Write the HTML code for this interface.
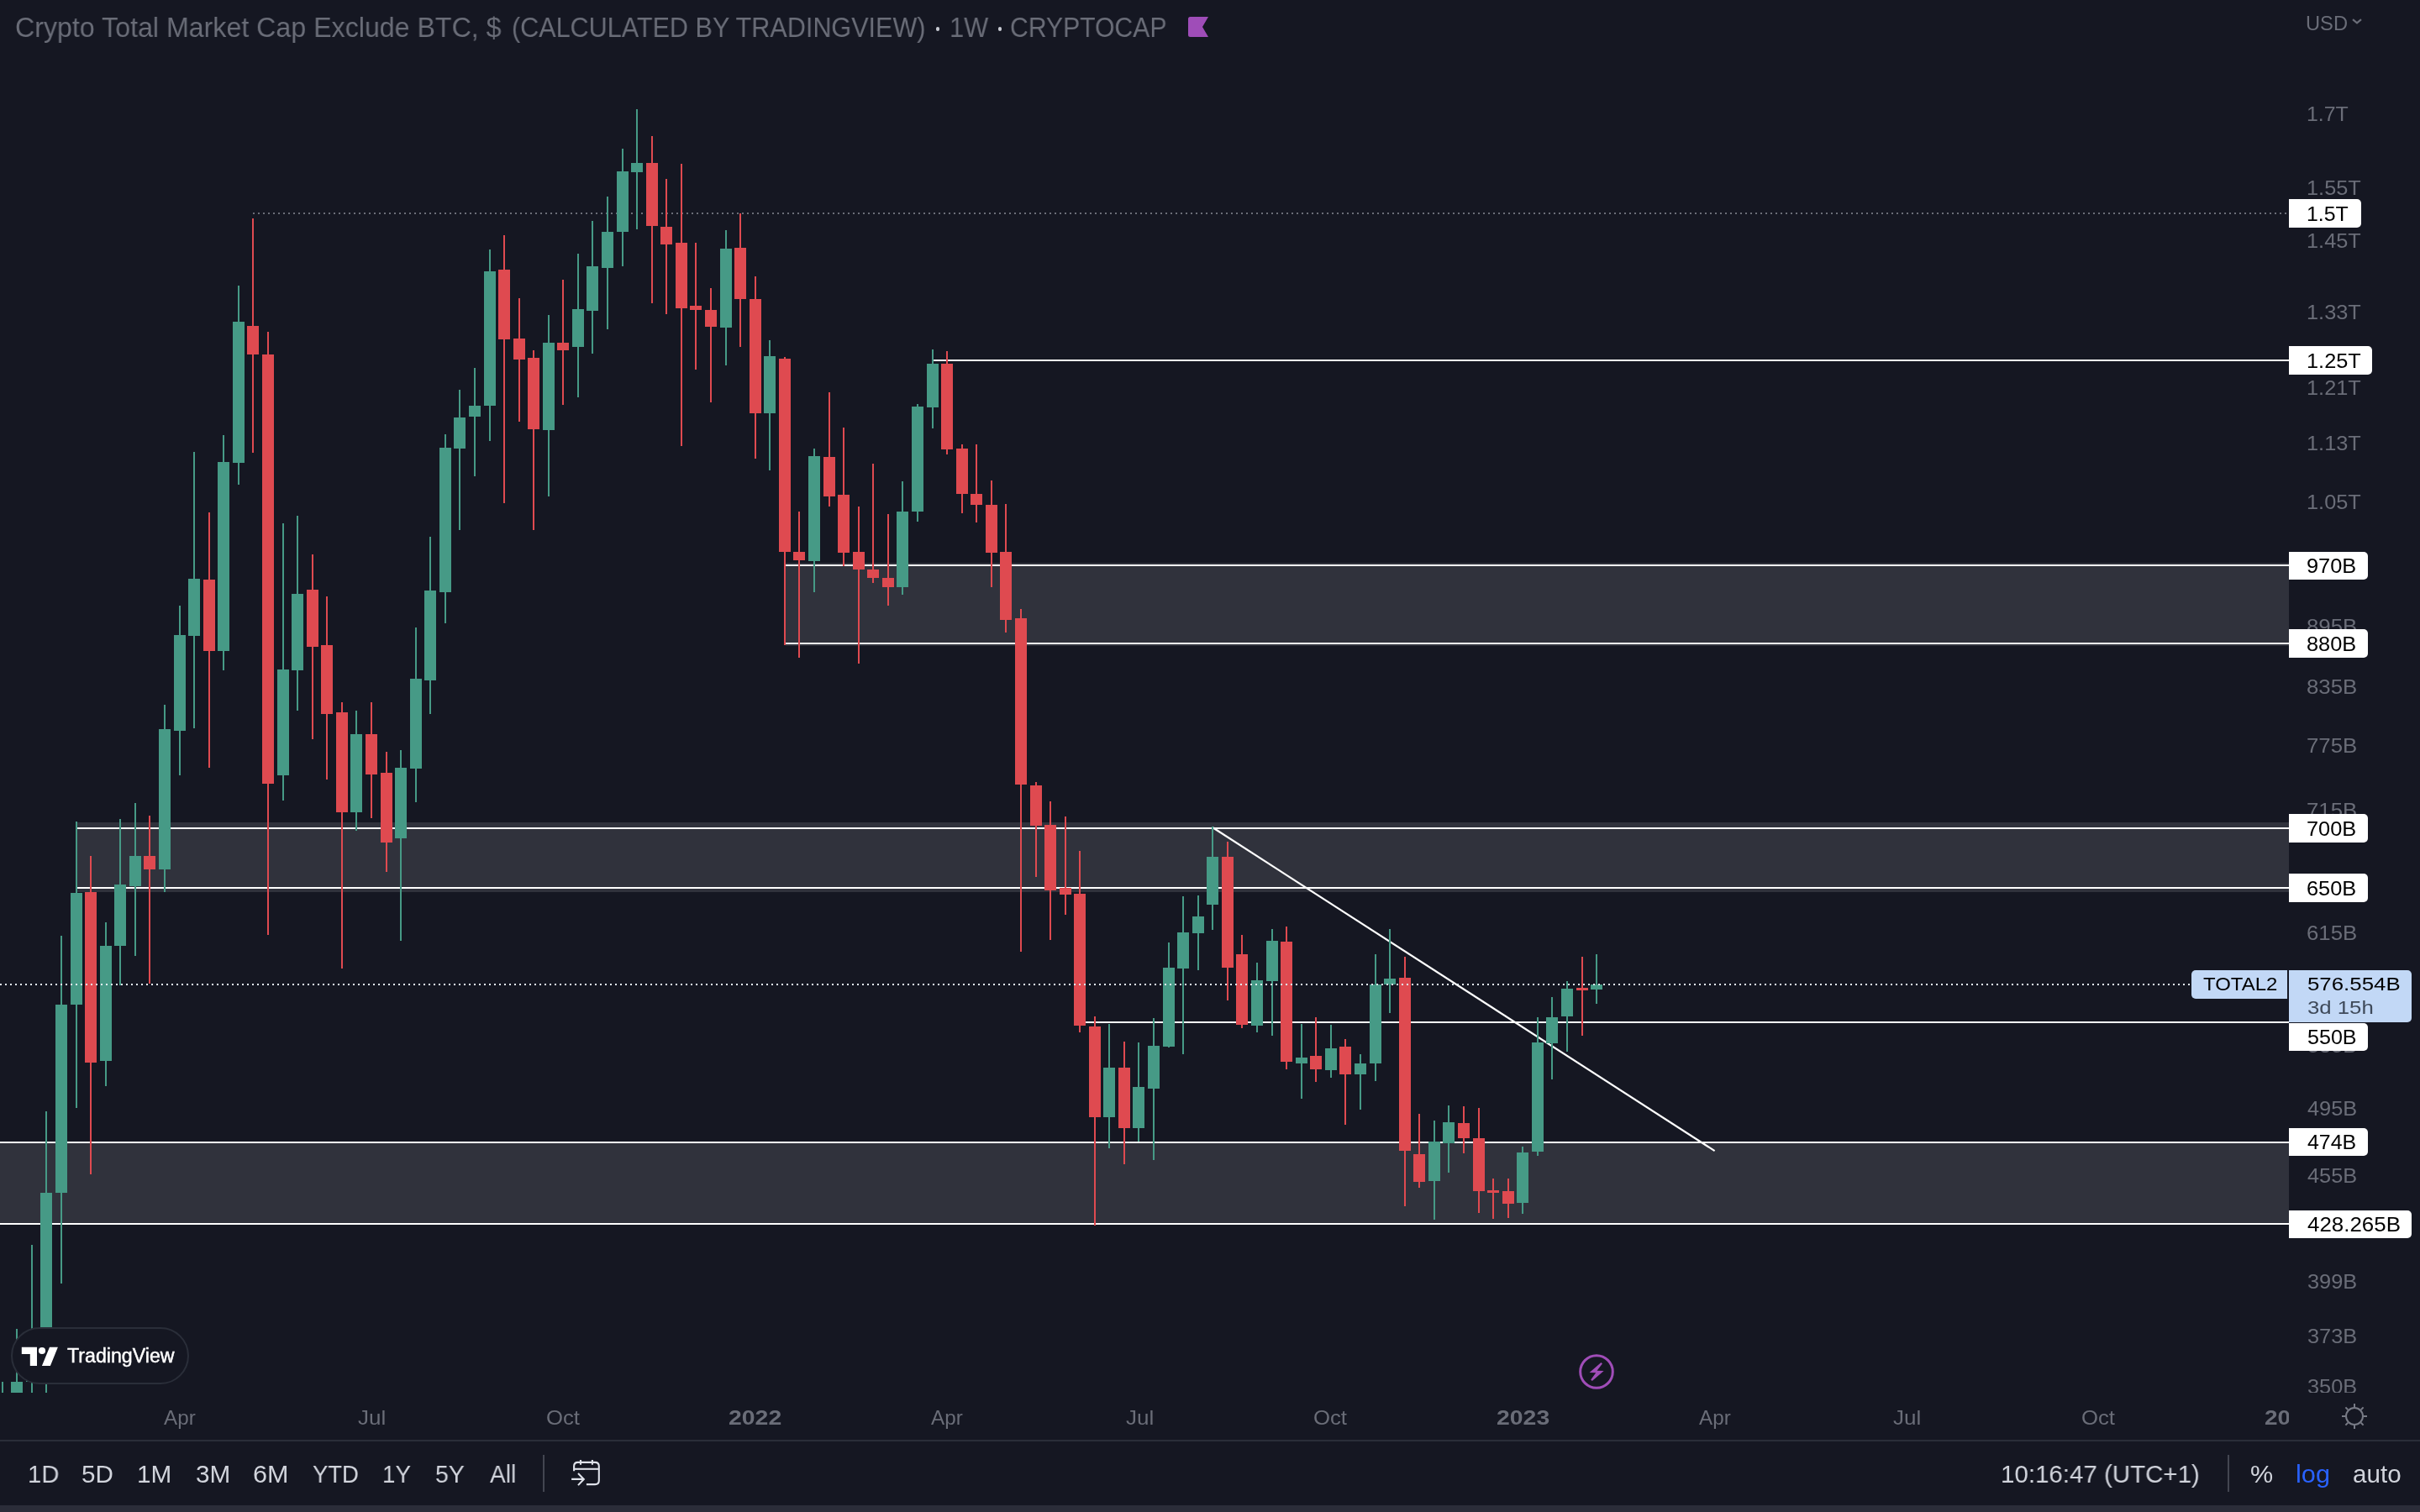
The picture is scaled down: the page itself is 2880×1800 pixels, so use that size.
<!DOCTYPE html>
<html><head><meta charset="utf-8"><style>
html,body{margin:0;padding:0;width:2880px;height:1800px;overflow:hidden;background:#151722;font-family:"Liberation Sans",sans-serif;}
.t{position:absolute;white-space:nowrap;line-height:1;transform-origin:0 0;will-change:transform;}
.box{position:absolute;left:2724px;background:#fff;border-radius:0 5px 5px 0;}
svg{position:absolute;left:0;top:0;overflow:visible}
</style></head><body>
<svg width="2880" height="1800" shape-rendering="crispEdges">
<defs><clipPath id="pane"><rect x="0" y="0" width="2724" height="1658"/></clipPath></defs>
<g clip-path="url(#pane)"><rect x="935" y="670" width="1789" height="99" fill="#30323c"/><rect x="91" y="979" width="2633" height="83" fill="#30323c"/><rect x="0" y="1361" width="2724" height="95" fill="#30323c"/><rect x="935" y="672" width="1789" height="2" fill="#ffffff"/><rect x="935" y="765" width="1789" height="2" fill="#ffffff"/><rect x="91" y="985" width="2633" height="2" fill="#ffffff"/><rect x="91" y="1056" width="2633" height="2" fill="#ffffff"/><rect x="0" y="1359" width="2724" height="2" fill="#ffffff"/><rect x="0" y="1456" width="2724" height="2" fill="#ffffff"/><rect x="1110" y="428" width="1614" height="2" fill="#ffffff"/><rect x="1285" y="1216" width="1439" height="2" fill="#ffffff"/><line x1="301" y1="254" x2="2724" y2="254" stroke="#6b6e78" stroke-width="2" stroke-dasharray="2 4"/><line x1="1443" y1="985" x2="2040.6" y2="1370.1" stroke="#ffffff" stroke-width="2.2" shape-rendering="geometricPrecision"/><rect x="2" y="1645" width="2" height="55" fill="#469a86"/><rect x="-4" y="1660" width="14" height="40" fill="#469a86"/><rect x="19" y="1582" width="2" height="118" fill="#469a86"/><rect x="13" y="1645" width="14" height="55" fill="#469a86"/><rect x="37" y="1482" width="2" height="218" fill="#469a86"/><rect x="31" y="1600" width="14" height="45" fill="#469a86"/><rect x="54" y="1323" width="2" height="377" fill="#469a86"/><rect x="48" y="1420" width="14" height="225" fill="#469a86"/><rect x="72" y="1114" width="2" height="414" fill="#469a86"/><rect x="66" y="1196" width="14" height="224" fill="#469a86"/><rect x="90" y="978" width="2" height="341" fill="#469a86"/><rect x="84" y="1063" width="14" height="133" fill="#469a86"/><rect x="107" y="1019" width="2" height="379" fill="#df4a50"/><rect x="101" y="1062" width="14" height="203" fill="#df4a50"/><rect x="125" y="1098" width="2" height="195" fill="#469a86"/><rect x="119" y="1126" width="14" height="137" fill="#469a86"/><rect x="142" y="975" width="2" height="198" fill="#469a86"/><rect x="136" y="1053" width="14" height="73" fill="#469a86"/><rect x="160" y="956" width="2" height="182" fill="#469a86"/><rect x="154" y="1019" width="14" height="36" fill="#469a86"/><rect x="177" y="971" width="2" height="200" fill="#df4a50"/><rect x="171" y="1019" width="14" height="16" fill="#df4a50"/><rect x="195" y="839" width="2" height="223" fill="#469a86"/><rect x="189" y="868" width="14" height="167" fill="#469a86"/><rect x="213" y="721" width="2" height="202" fill="#469a86"/><rect x="207" y="756" width="14" height="114" fill="#469a86"/><rect x="230" y="538" width="2" height="329" fill="#469a86"/><rect x="224" y="689" width="14" height="68" fill="#469a86"/><rect x="248" y="610" width="2" height="304" fill="#df4a50"/><rect x="242" y="690" width="14" height="85" fill="#df4a50"/><rect x="265" y="518" width="2" height="280" fill="#469a86"/><rect x="259" y="550" width="14" height="225" fill="#469a86"/><rect x="283" y="340" width="2" height="237" fill="#469a86"/><rect x="277" y="383" width="14" height="168" fill="#469a86"/><rect x="300" y="260" width="2" height="279" fill="#df4a50"/><rect x="294" y="388" width="14" height="34" fill="#df4a50"/><rect x="318" y="395" width="2" height="718" fill="#df4a50"/><rect x="312" y="422" width="14" height="511" fill="#df4a50"/><rect x="336" y="623" width="2" height="330" fill="#469a86"/><rect x="330" y="797" width="14" height="126" fill="#469a86"/><rect x="353" y="614" width="2" height="232" fill="#469a86"/><rect x="347" y="707" width="14" height="91" fill="#469a86"/><rect x="371" y="660" width="2" height="220" fill="#df4a50"/><rect x="365" y="702" width="14" height="68" fill="#df4a50"/><rect x="388" y="710" width="2" height="218" fill="#df4a50"/><rect x="382" y="768" width="14" height="82" fill="#df4a50"/><rect x="406" y="836" width="2" height="317" fill="#df4a50"/><rect x="400" y="848" width="14" height="119" fill="#df4a50"/><rect x="423" y="846" width="2" height="143" fill="#469a86"/><rect x="417" y="874" width="14" height="93" fill="#469a86"/><rect x="441" y="836" width="2" height="138" fill="#df4a50"/><rect x="435" y="874" width="14" height="48" fill="#df4a50"/><rect x="459" y="895" width="2" height="143" fill="#df4a50"/><rect x="453" y="920" width="14" height="83" fill="#df4a50"/><rect x="476" y="893" width="2" height="227" fill="#469a86"/><rect x="470" y="914" width="14" height="84" fill="#469a86"/><rect x="494" y="747" width="2" height="208" fill="#469a86"/><rect x="488" y="808" width="14" height="107" fill="#469a86"/><rect x="511" y="639" width="2" height="211" fill="#469a86"/><rect x="505" y="703" width="14" height="107" fill="#469a86"/><rect x="529" y="517" width="2" height="225" fill="#469a86"/><rect x="523" y="533" width="14" height="172" fill="#469a86"/><rect x="546" y="464" width="2" height="167" fill="#469a86"/><rect x="540" y="497" width="14" height="37" fill="#469a86"/><rect x="564" y="438" width="2" height="129" fill="#469a86"/><rect x="558" y="483" width="14" height="13" fill="#469a86"/><rect x="582" y="297" width="2" height="228" fill="#469a86"/><rect x="576" y="323" width="14" height="160" fill="#469a86"/><rect x="599" y="280" width="2" height="319" fill="#df4a50"/><rect x="593" y="321" width="14" height="83" fill="#df4a50"/><rect x="617" y="355" width="2" height="147" fill="#df4a50"/><rect x="611" y="403" width="14" height="25" fill="#df4a50"/><rect x="634" y="417" width="2" height="214" fill="#df4a50"/><rect x="628" y="426" width="14" height="85" fill="#df4a50"/><rect x="652" y="375" width="2" height="216" fill="#469a86"/><rect x="646" y="408" width="14" height="104" fill="#469a86"/><rect x="669" y="333" width="2" height="149" fill="#df4a50"/><rect x="663" y="408" width="14" height="9" fill="#df4a50"/><rect x="687" y="302" width="2" height="171" fill="#469a86"/><rect x="681" y="368" width="14" height="45" fill="#469a86"/><rect x="704" y="263" width="2" height="158" fill="#469a86"/><rect x="698" y="317" width="14" height="53" fill="#469a86"/><rect x="722" y="234" width="2" height="158" fill="#469a86"/><rect x="716" y="276" width="14" height="43" fill="#469a86"/><rect x="740" y="177" width="2" height="140" fill="#469a86"/><rect x="734" y="204" width="14" height="72" fill="#469a86"/><rect x="757" y="130" width="2" height="143" fill="#469a86"/><rect x="751" y="194" width="14" height="11" fill="#469a86"/><rect x="775" y="162" width="2" height="199" fill="#df4a50"/><rect x="769" y="194" width="14" height="75" fill="#df4a50"/><rect x="792" y="213" width="2" height="161" fill="#df4a50"/><rect x="786" y="270" width="14" height="21" fill="#df4a50"/><rect x="810" y="195" width="2" height="336" fill="#df4a50"/><rect x="804" y="289" width="14" height="78" fill="#df4a50"/><rect x="827" y="289" width="2" height="151" fill="#df4a50"/><rect x="821" y="364" width="14" height="5" fill="#df4a50"/><rect x="845" y="343" width="2" height="136" fill="#df4a50"/><rect x="839" y="369" width="14" height="20" fill="#df4a50"/><rect x="863" y="274" width="2" height="161" fill="#469a86"/><rect x="857" y="296" width="14" height="94" fill="#469a86"/><rect x="880" y="254" width="2" height="159" fill="#df4a50"/><rect x="874" y="295" width="14" height="61" fill="#df4a50"/><rect x="898" y="329" width="2" height="217" fill="#df4a50"/><rect x="892" y="356" width="14" height="136" fill="#df4a50"/><rect x="915" y="405" width="2" height="155" fill="#469a86"/><rect x="909" y="424" width="14" height="68" fill="#469a86"/><rect x="933" y="425" width="2" height="343" fill="#df4a50"/><rect x="927" y="427" width="14" height="230" fill="#df4a50"/><rect x="950" y="609" width="2" height="174" fill="#df4a50"/><rect x="944" y="657" width="14" height="10" fill="#df4a50"/><rect x="968" y="534" width="2" height="171" fill="#469a86"/><rect x="962" y="543" width="14" height="125" fill="#469a86"/><rect x="986" y="467" width="2" height="136" fill="#df4a50"/><rect x="980" y="544" width="14" height="47" fill="#df4a50"/><rect x="1003" y="509" width="2" height="165" fill="#df4a50"/><rect x="997" y="589" width="14" height="69" fill="#df4a50"/><rect x="1021" y="603" width="2" height="187" fill="#df4a50"/><rect x="1015" y="657" width="14" height="21" fill="#df4a50"/><rect x="1038" y="552" width="2" height="142" fill="#df4a50"/><rect x="1032" y="678" width="14" height="10" fill="#df4a50"/><rect x="1056" y="612" width="2" height="109" fill="#df4a50"/><rect x="1050" y="688" width="14" height="11" fill="#df4a50"/><rect x="1073" y="573" width="2" height="135" fill="#469a86"/><rect x="1067" y="609" width="14" height="90" fill="#469a86"/><rect x="1091" y="481" width="2" height="140" fill="#469a86"/><rect x="1085" y="484" width="14" height="125" fill="#469a86"/><rect x="1109" y="416" width="2" height="94" fill="#469a86"/><rect x="1103" y="433" width="14" height="52" fill="#469a86"/><rect x="1126" y="418" width="2" height="123" fill="#df4a50"/><rect x="1120" y="433" width="14" height="102" fill="#df4a50"/><rect x="1144" y="529" width="2" height="82" fill="#df4a50"/><rect x="1138" y="534" width="14" height="54" fill="#df4a50"/><rect x="1161" y="529" width="2" height="93" fill="#df4a50"/><rect x="1155" y="588" width="14" height="13" fill="#df4a50"/><rect x="1179" y="572" width="2" height="127" fill="#df4a50"/><rect x="1173" y="601" width="14" height="57" fill="#df4a50"/><rect x="1196" y="600" width="2" height="153" fill="#df4a50"/><rect x="1190" y="657" width="14" height="81" fill="#df4a50"/><rect x="1214" y="725" width="2" height="408" fill="#df4a50"/><rect x="1208" y="736" width="14" height="198" fill="#df4a50"/><rect x="1232" y="931" width="2" height="113" fill="#df4a50"/><rect x="1226" y="935" width="14" height="48" fill="#df4a50"/><rect x="1249" y="954" width="2" height="165" fill="#df4a50"/><rect x="1243" y="982" width="14" height="78" fill="#df4a50"/><rect x="1267" y="972" width="2" height="117" fill="#df4a50"/><rect x="1261" y="1057" width="14" height="8" fill="#df4a50"/><rect x="1284" y="1013" width="2" height="216" fill="#df4a50"/><rect x="1278" y="1064" width="14" height="157" fill="#df4a50"/><rect x="1302" y="1210" width="2" height="249" fill="#df4a50"/><rect x="1296" y="1222" width="14" height="108" fill="#df4a50"/><rect x="1319" y="1219" width="2" height="148" fill="#469a86"/><rect x="1313" y="1271" width="14" height="59" fill="#469a86"/><rect x="1337" y="1240" width="2" height="146" fill="#df4a50"/><rect x="1331" y="1271" width="14" height="72" fill="#df4a50"/><rect x="1354" y="1241" width="2" height="118" fill="#469a86"/><rect x="1348" y="1294" width="14" height="49" fill="#469a86"/><rect x="1372" y="1212" width="2" height="169" fill="#469a86"/><rect x="1366" y="1245" width="14" height="51" fill="#469a86"/><rect x="1390" y="1122" width="2" height="125" fill="#469a86"/><rect x="1384" y="1152" width="14" height="94" fill="#469a86"/><rect x="1407" y="1067" width="2" height="188" fill="#469a86"/><rect x="1401" y="1110" width="14" height="43" fill="#469a86"/><rect x="1425" y="1066" width="2" height="89" fill="#469a86"/><rect x="1419" y="1091" width="14" height="20" fill="#469a86"/><rect x="1442" y="984" width="2" height="123" fill="#469a86"/><rect x="1436" y="1020" width="14" height="57" fill="#469a86"/><rect x="1460" y="1002" width="2" height="189" fill="#df4a50"/><rect x="1454" y="1020" width="14" height="132" fill="#df4a50"/><rect x="1477" y="1113" width="2" height="111" fill="#df4a50"/><rect x="1471" y="1136" width="14" height="84" fill="#df4a50"/><rect x="1495" y="1146" width="2" height="83" fill="#469a86"/><rect x="1489" y="1167" width="14" height="54" fill="#469a86"/><rect x="1513" y="1106" width="2" height="127" fill="#469a86"/><rect x="1507" y="1120" width="14" height="48" fill="#469a86"/><rect x="1530" y="1103" width="2" height="170" fill="#df4a50"/><rect x="1524" y="1121" width="14" height="143" fill="#df4a50"/><rect x="1548" y="1219" width="2" height="89" fill="#469a86"/><rect x="1542" y="1259" width="14" height="7" fill="#469a86"/><rect x="1565" y="1211" width="2" height="77" fill="#df4a50"/><rect x="1559" y="1257" width="14" height="16" fill="#df4a50"/><rect x="1583" y="1220" width="2" height="63" fill="#469a86"/><rect x="1577" y="1248" width="14" height="26" fill="#469a86"/><rect x="1600" y="1237" width="2" height="102" fill="#df4a50"/><rect x="1594" y="1246" width="14" height="33" fill="#df4a50"/><rect x="1618" y="1255" width="2" height="66" fill="#469a86"/><rect x="1612" y="1266" width="14" height="13" fill="#469a86"/><rect x="1636" y="1136" width="2" height="151" fill="#469a86"/><rect x="1630" y="1172" width="14" height="94" fill="#469a86"/><rect x="1653" y="1106" width="2" height="100" fill="#469a86"/><rect x="1647" y="1165" width="14" height="7" fill="#469a86"/><rect x="1671" y="1139" width="2" height="297" fill="#df4a50"/><rect x="1665" y="1164" width="14" height="206" fill="#df4a50"/><rect x="1688" y="1326" width="2" height="88" fill="#df4a50"/><rect x="1682" y="1374" width="14" height="33" fill="#df4a50"/><rect x="1706" y="1334" width="2" height="118" fill="#469a86"/><rect x="1700" y="1359" width="14" height="47" fill="#469a86"/><rect x="1723" y="1316" width="2" height="80" fill="#469a86"/><rect x="1717" y="1336" width="14" height="25" fill="#469a86"/><rect x="1741" y="1317" width="2" height="56" fill="#df4a50"/><rect x="1735" y="1337" width="14" height="18" fill="#df4a50"/><rect x="1759" y="1319" width="2" height="125" fill="#df4a50"/><rect x="1753" y="1355" width="14" height="63" fill="#df4a50"/><rect x="1776" y="1403" width="2" height="48" fill="#df4a50"/><rect x="1770" y="1417" width="14" height="3" fill="#df4a50"/><rect x="1794" y="1403" width="2" height="47" fill="#df4a50"/><rect x="1788" y="1418" width="14" height="15" fill="#df4a50"/><rect x="1811" y="1365" width="2" height="80" fill="#469a86"/><rect x="1805" y="1372" width="14" height="60" fill="#469a86"/><rect x="1829" y="1211" width="2" height="165" fill="#469a86"/><rect x="1823" y="1241" width="14" height="130" fill="#469a86"/><rect x="1846" y="1187" width="2" height="98" fill="#469a86"/><rect x="1840" y="1211" width="14" height="31" fill="#469a86"/><rect x="1864" y="1168" width="2" height="84" fill="#469a86"/><rect x="1858" y="1177" width="14" height="33" fill="#469a86"/><rect x="1882" y="1139" width="2" height="94" fill="#df4a50"/><rect x="1876" y="1176" width="14" height="3" fill="#df4a50"/><rect x="1899" y="1136" width="2" height="59" fill="#469a86"/><rect x="1893" y="1172" width="14" height="6" fill="#469a86"/><line x1="0" y1="1172" x2="2608" y2="1172" stroke="#e3efff" stroke-width="2" stroke-dasharray="2 4"/></g>
</svg>
<div style="position:absolute;left:12.6px;top:1580px;width:208.9px;height:63.9px;border:2px solid #2a2e39;border-radius:34px;background:#151722;box-sizing:content-box"></div><svg style="left:20px;top:1595px" width="60" height="40" viewBox="20 1595 60 40"><path d="M25.8 1603.8H44V1626H35.8V1612H25.8Z M59 1603.8H68.9L59.9 1626H49.9Z" fill="#fff"/><circle cx="50" cy="1608" r="4.1" fill="#fff"/></svg>
<div class="t" style="left:18.23px;top:15.60px;font-size:33.2px;color:#6a6d78;font-weight:normal;transform:scaleX(0.9691);">Crypto Total Market Cap Exclude BTC, $</div><div class="t" style="left:608.86px;top:15.60px;font-size:33.2px;color:#6a6d78;font-weight:normal;transform:scaleX(0.9208);">(CALCULATED BY TRADINGVIEW)</div><div class="t" style="left:1130.15px;top:15.60px;font-size:33.2px;color:#6a6d78;font-weight:normal;transform:scaleX(0.9266);">1W</div><div class="t" style="left:1202.29px;top:15.60px;font-size:33.2px;color:#6a6d78;font-weight:normal;transform:scaleX(0.9080);">CRYPTOCAP</div><div class="t" style="left:2743.50px;top:16.64px;font-size:23.7px;color:#6a6d78;font-weight:normal;">USD</div><div class="t" style="left:32.53px;top:1740.14px;font-size:29.6px;color:#d1d4dc;font-weight:normal;transform:scaleX(0.9867);">1D</div><div class="t" style="left:97.31px;top:1740.14px;font-size:29.6px;color:#d1d4dc;font-weight:normal;transform:scaleX(0.9927);">5D</div><div class="t" style="left:162.99px;top:1740.14px;font-size:29.6px;color:#d1d4dc;font-weight:normal;transform:scaleX(1.0038);">1M</div><div class="t" style="left:233.00px;top:1740.14px;font-size:29.6px;color:#d1d4dc;font-weight:normal;transform:scaleX(1.0037);">3M</div><div class="t" style="left:300.97px;top:1740.14px;font-size:29.6px;color:#d1d4dc;font-weight:normal;transform:scaleX(1.0323);">6M</div><div class="t" style="left:372.00px;top:1740.14px;font-size:29.6px;color:#d1d4dc;font-weight:normal;transform:scaleX(0.9271);">YTD</div><div class="t" style="left:455.13px;top:1740.14px;font-size:29.6px;color:#d1d4dc;font-weight:normal;transform:scaleX(0.9374);">1Y</div><div class="t" style="left:517.84px;top:1740.14px;font-size:29.6px;color:#d1d4dc;font-weight:normal;transform:scaleX(0.9589);">5Y</div><div class="t" style="left:582.60px;top:1740.14px;font-size:29.6px;color:#d1d4dc;font-weight:normal;transform:scaleX(0.9517);">All</div><div class="t" style="left:2380.51px;top:1740.14px;font-size:29.6px;color:#d1d4dc;font-weight:normal;transform:scaleX(0.9964);">10:16:47 (UTC+1)</div><div class="t" style="left:2677.97px;top:1740.14px;font-size:29.6px;color:#d1d4dc;font-weight:normal;transform:scaleX(1.0320);">%</div><div class="t" style="left:2731.92px;top:1740.14px;font-size:29.6px;color:#2962ff;font-weight:normal;transform:scaleX(1.0379);">log</div><div class="t" style="left:2800.00px;top:1740.14px;font-size:29.6px;color:#d1d4dc;font-weight:normal;">auto</div><div class="t" style="left:80.00px;top:1603.03px;font-size:23px;color:#ffffff;font-weight:normal;transform:scaleX(1.0082);-webkit-text-stroke:0.45px #fff;">TradingView</div>
<div style="position:absolute;left:0;top:0;width:2880px;height:1658px;overflow:hidden"><div class="t" style="left:2744.97px;top:123.81px;font-size:24.2px;color:#6a6d78;font-weight:normal;transform:scaleX(1.0289);">1.7T</div><div class="t" style="left:2744.95px;top:211.81px;font-size:24.2px;color:#6a6d78;font-weight:normal;transform:scaleX(1.0479);">1.55T</div><div class="t" style="left:2744.95px;top:275.41px;font-size:24.2px;color:#6a6d78;font-weight:normal;transform:scaleX(1.0479);">1.45T</div><div class="t" style="left:2744.95px;top:359.81px;font-size:24.2px;color:#6a6d78;font-weight:normal;transform:scaleX(1.0479);">1.33T</div><div class="t" style="left:2744.95px;top:449.81px;font-size:24.2px;color:#6a6d78;font-weight:normal;transform:scaleX(1.0479);">1.21T</div><div class="t" style="left:2744.95px;top:516.31px;font-size:24.2px;color:#6a6d78;font-weight:normal;transform:scaleX(1.0479);">1.13T</div><div class="t" style="left:2744.95px;top:585.81px;font-size:24.2px;color:#6a6d78;font-weight:normal;transform:scaleX(1.0479);">1.05T</div><div class="t" style="left:2744.93px;top:734.31px;font-size:24.2px;color:#6a6d78;font-weight:normal;transform:scaleX(1.0670);">895B</div><div class="t" style="left:2744.93px;top:806.31px;font-size:24.2px;color:#6a6d78;font-weight:normal;transform:scaleX(1.0670);">835B</div><div class="t" style="left:2744.93px;top:875.81px;font-size:24.2px;color:#6a6d78;font-weight:normal;transform:scaleX(1.0670);">775B</div><div class="t" style="left:2744.93px;top:952.81px;font-size:24.2px;color:#6a6d78;font-weight:normal;transform:scaleX(1.0670);">715B</div><div class="t" style="left:2744.93px;top:1098.81px;font-size:24.2px;color:#6a6d78;font-weight:normal;transform:scaleX(1.0670);">615B</div><div class="t" style="left:2746.00px;top:1233.31px;font-size:24.2px;color:#6a6d78;font-weight:normal;transform:scaleX(1.0478);">535B</div><div class="t" style="left:2746.00px;top:1307.81px;font-size:24.2px;color:#6a6d78;font-weight:normal;transform:scaleX(1.0478);">495B</div><div class="t" style="left:2746.00px;top:1388.31px;font-size:24.2px;color:#6a6d78;font-weight:normal;transform:scaleX(1.0478);">455B</div><div class="t" style="left:2746.00px;top:1514.31px;font-size:24.2px;color:#6a6d78;font-weight:normal;transform:scaleX(1.0478);">399B</div><div class="t" style="left:2746.00px;top:1578.81px;font-size:24.2px;color:#6a6d78;font-weight:normal;transform:scaleX(1.0478);">373B</div><div class="t" style="left:2746.00px;top:1639.31px;font-size:24.2px;color:#6a6d78;font-weight:normal;transform:scaleX(1.0478);">350B</div></div>
<div class="box" style="top:237px;height:34px;width:86px"></div><div class="box" style="top:412px;height:34px;width:99px"></div><div class="box" style="top:656.5px;height:33.5px;width:94px"></div><div class="box" style="top:749px;height:34px;width:94px"></div><div class="box" style="top:969px;height:33.5px;width:94px"></div><div class="box" style="top:1040px;height:33.5px;width:94px"></div><div class="box" style="top:1217.5px;height:33.5px;width:94px"></div><div class="box" style="top:1343px;height:33px;width:94px"></div><div class="box" style="top:1440.7px;height:32.899999999999864px;width:146px"></div>
<div style="position:absolute;left:2608px;top:1155px;width:114px;height:34px;background:#c2d8f6;border-radius:5px 0 0 5px"></div>
<div style="position:absolute;left:2724px;top:1155px;width:146px;height:62px;background:#c2d8f6;border-radius:0 5px 5px 0"></div>
<div class="t" style="left:2744.97px;top:242.81px;font-size:24.2px;color:#000;font-weight:normal;transform:scaleX(1.0289);">1.5T</div><div class="t" style="left:2744.95px;top:417.81px;font-size:24.2px;color:#000;font-weight:normal;transform:scaleX(1.0479);">1.25T</div><div class="t" style="left:2744.95px;top:662.06px;font-size:24.2px;color:#000;font-weight:normal;transform:scaleX(1.0486);">970B</div><div class="t" style="left:2744.95px;top:754.81px;font-size:24.2px;color:#000;font-weight:normal;transform:scaleX(1.0486);">880B</div><div class="t" style="left:2744.95px;top:974.56px;font-size:24.2px;color:#000;font-weight:normal;transform:scaleX(1.0486);">700B</div><div class="t" style="left:2744.95px;top:1045.56px;font-size:24.2px;color:#000;font-weight:normal;transform:scaleX(1.0486);">650B</div><div class="t" style="left:2746.00px;top:1223.06px;font-size:24.2px;color:#000;font-weight:normal;transform:scaleX(1.0369);">550B</div><div class="t" style="left:2746.00px;top:1348.31px;font-size:24.2px;color:#000;font-weight:normal;transform:scaleX(1.0297);">474B</div><div class="t" style="left:2746.00px;top:1445.96px;font-size:24.2px;color:#000;font-weight:normal;transform:scaleX(1.0710);">428.265B</div><div class="t" style="left:2621.50px;top:1160.91px;font-size:22.2px;color:#000;font-weight:normal;transform:scaleX(1.0791);">TOTAL2</div><div class="t" style="left:2745.80px;top:1160.91px;font-size:22.2px;color:#000;font-weight:normal;transform:scaleX(1.1645);">576.554B</div><div class="t" style="left:2745.80px;top:1188.61px;font-size:22.2px;color:#3f4a5a;font-weight:normal;transform:scaleX(1.1605);">3d 15h</div>
<div style="position:absolute;left:0;top:1658px;width:2724px;height:56px;overflow:hidden"><div class="t" style="left:194.65px;top:18.28px;font-size:24px;color:#6a6d78;font-weight:normal;transform:scaleX(1.0092);">Apr</div><div class="t" style="left:426.03px;top:18.28px;font-size:24px;color:#6a6d78;font-weight:normal;transform:scaleX(1.0836);">Jul</div><div class="t" style="left:649.64px;top:18.28px;font-size:24px;color:#6a6d78;font-weight:normal;transform:scaleX(1.0718);">Oct</div><div class="t" style="left:867.39px;top:18.28px;font-size:24px;color:#6a6d78;font-weight:bold;transform:scaleX(1.1839);">2022</div><div class="t" style="left:1108.37px;top:18.28px;font-size:24px;color:#6a6d78;font-weight:normal;transform:scaleX(1.0092);">Apr</div><div class="t" style="left:1339.75px;top:18.28px;font-size:24px;color:#6a6d78;font-weight:normal;transform:scaleX(1.0836);">Jul</div><div class="t" style="left:1563.36px;top:18.28px;font-size:24px;color:#6a6d78;font-weight:normal;transform:scaleX(1.0718);">Oct</div><div class="t" style="left:1781.11px;top:18.28px;font-size:24px;color:#6a6d78;font-weight:bold;transform:scaleX(1.1839);">2023</div><div class="t" style="left:2022.09px;top:18.28px;font-size:24px;color:#6a6d78;font-weight:normal;transform:scaleX(1.0092);">Apr</div><div class="t" style="left:2253.47px;top:18.28px;font-size:24px;color:#6a6d78;font-weight:normal;transform:scaleX(1.0836);">Jul</div><div class="t" style="left:2477.08px;top:18.28px;font-size:24px;color:#6a6d78;font-weight:normal;transform:scaleX(1.0718);">Oct</div><div class="t" style="left:2694.83px;top:18.28px;font-size:24px;color:#6a6d78;font-weight:bold;transform:scaleX(1.1620);">2024</div></div>
<svg style="left:1414px;top:20px" width="24" height="24" viewBox="0 0 24 24"><path d="M2.5 0H24L17 12L24 24H2.5Q0 24 0 21.5V2.5Q0 0 2.5 0Z" fill="#9f4db8"/></svg><div style="position:absolute;left:1113.5px;top:32px;width:4.5px;height:4.5px;border-radius:50%;background:#c9ccd4"></div><div style="position:absolute;left:1187.5px;top:32px;width:4.5px;height:4.5px;border-radius:50%;background:#c9ccd4"></div><svg style="left:2798px;top:20px" width="14" height="10" viewBox="0 0 14 10"><path d="M2 3.2L7 7.4L12 3.2" fill="none" stroke="#6a6d78" stroke-width="2.2"/></svg><svg style="left:1876px;top:1609px" width="48" height="48" viewBox="-24 -24 48 48"><circle cx="0" cy="0" r="19.3" fill="none" stroke="#a04db8" stroke-width="3"/><path d="M5.46 -10.9L6.94 -9.4L0.5 -1.24L8.68 -1L-5.2 10.9L-6.8 9.4L-0.74 1.24L-8.43 1Z" fill="#a04db8"/></svg><svg style="left:2778px;top:1662px" width="48" height="48" viewBox="-24 -24 48 48"><g stroke="#787b86" stroke-width="2" fill="none"><circle r="10"/><line x1="0" y1="-11" x2="0" y2="-15" transform="rotate(0)"/><line x1="0" y1="-11" x2="0" y2="-15" transform="rotate(45)"/><line x1="0" y1="-11" x2="0" y2="-15" transform="rotate(90)"/><line x1="0" y1="-11" x2="0" y2="-15" transform="rotate(135)"/><line x1="0" y1="-11" x2="0" y2="-15" transform="rotate(180)"/><line x1="0" y1="-11" x2="0" y2="-15" transform="rotate(225)"/><line x1="0" y1="-11" x2="0" y2="-15" transform="rotate(270)"/><line x1="0" y1="-11" x2="0" y2="-15" transform="rotate(315)"/></g></svg><svg style="left:670px;top:1730px" width="50" height="50" viewBox="670 1730 50 50"><g fill="none" stroke="#dfe2ea" stroke-width="2.1"><path d="M683.1 1751.2V1745.5Q683.1 1740.9 687.7 1740.9H708.2Q712.8 1740.9 712.8 1745.5V1762.5Q712.8 1767.1 708.2 1767.1H697.9"/><path d="M683.1 1748.8H712.8"/><path d="M691 1738.1V1743.7M704.9 1738.1V1743.7"/><path d="M680.1 1760.9H694.3M688 1754L694.8 1760.9L688 1768.1"/></g></svg>
<div style="position:absolute;left:0;top:1714px;width:2880px;height:2px;background:#2a2e39"></div>
<div style="position:absolute;left:646px;top:1732px;width:2px;height:44px;background:#434651"></div>
<div style="position:absolute;left:2651px;top:1732px;width:2px;height:44px;background:#434651"></div>
<div style="position:absolute;left:0;top:1792px;width:2880px;height:8px;background:#2b2d39"></div>
</body></html>
